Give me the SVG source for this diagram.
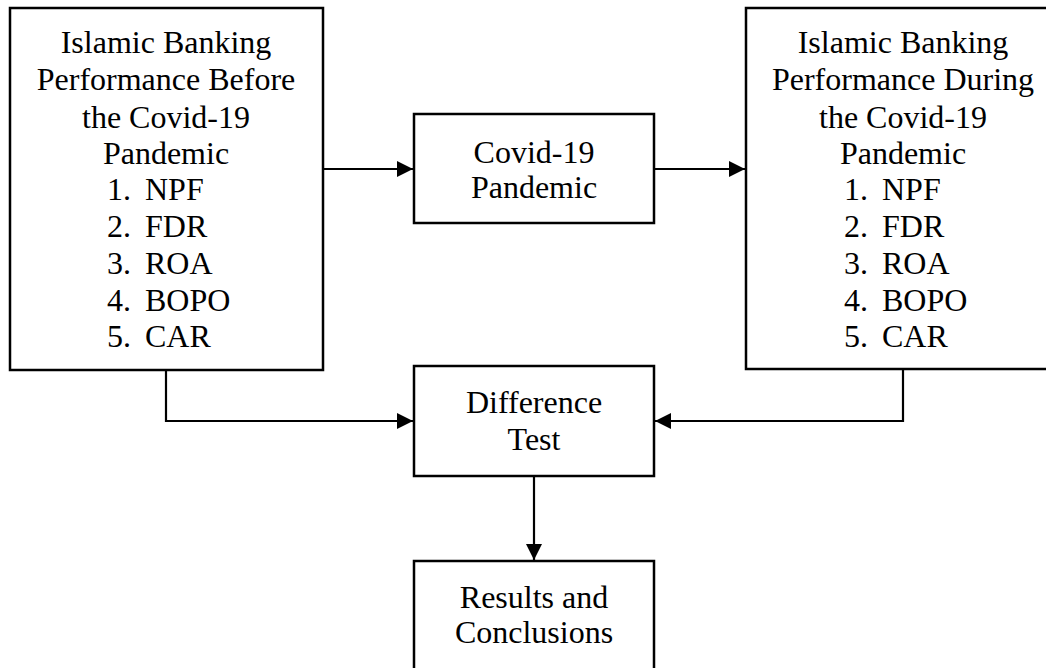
<svg xmlns="http://www.w3.org/2000/svg" width="1046" height="668" viewBox="0 0 1046 668">
<style>
.box{fill:#fff;stroke:#000;stroke-width:2.5}
.t{font-family:"Liberation Serif","Times New Roman",serif;font-size:32px;fill:#000}
.c{text-anchor:middle}
.ln{fill:none;stroke:#000;stroke-width:2.2}
</style>
<defs>
<marker id="ah" viewBox="0 0 16 16" refX="16" refY="8" markerWidth="16" markerHeight="16" markerUnits="userSpaceOnUse" orient="auto">
<path d="M0,0 L16,8 L0,16 Z" fill="#000"/>
</marker>
</defs>
<g id="connectors">
<line class="ln" x1="323" y1="169" x2="413" y2="169" marker-end="url(#ah)"/>
<line class="ln" x1="654" y1="169" x2="745" y2="169" marker-end="url(#ah)"/>
<polyline class="ln" points="166,371 166,421 413,421" marker-end="url(#ah)"/>
<polyline class="ln" points="903,370 903,421 655,421" marker-end="url(#ah)"/>
<line class="ln" x1="534" y1="477" x2="534" y2="560" marker-end="url(#ah)"/>
</g>
<g id="before">
<rect class="box" x="10" y="8" width="313" height="362"/>
<text class="t c" x="166" y="53">Islamic Banking</text>
<text class="t c" x="166" y="90">Performance Before</text>
<text class="t c" x="166" y="128">the Covid-19</text>
<text class="t c" x="166" y="164">Pandemic</text>
<text class="t" x="107" y="200">1.</text><text class="t" x="145" y="200">NPF</text>
<text class="t" x="107" y="237">2.</text><text class="t" x="145" y="237">FDR</text>
<text class="t" x="107" y="274">3.</text><text class="t" x="145" y="274">ROA</text>
<text class="t" x="107" y="311">4.</text><text class="t" x="145" y="311">BOPO</text>
<text class="t" x="107" y="347">5.</text><text class="t" x="145" y="347">CAR</text>
</g>
<g id="covid">
<rect class="box" x="414" y="114" width="240" height="109"/>
<text class="t c" x="534" y="163">Covid-19</text>
<text class="t c" x="534" y="198">Pandemic</text>
</g>
<g id="during">
<rect class="box" x="746" y="8" width="314" height="361"/>
<text class="t c" x="903" y="53">Islamic Banking</text>
<text class="t c" x="903" y="90">Performance During</text>
<text class="t c" x="903" y="128">the Covid-19</text>
<text class="t c" x="903" y="164">Pandemic</text>
<text class="t" x="844" y="200">1.</text><text class="t" x="882" y="200">NPF</text>
<text class="t" x="844" y="237">2.</text><text class="t" x="882" y="237">FDR</text>
<text class="t" x="844" y="274">3.</text><text class="t" x="882" y="274">ROA</text>
<text class="t" x="844" y="311">4.</text><text class="t" x="882" y="311">BOPO</text>
<text class="t" x="844" y="347">5.</text><text class="t" x="882" y="347">CAR</text>
</g>
<g id="difference">
<rect class="box" x="414" y="366" width="240" height="110"/>
<text class="t c" x="534" y="413">Difference</text>
<text class="t c" x="534" y="450">Test</text>
</g>
<g id="results">
<rect class="box" x="414" y="561" width="240" height="120"/>
<text class="t c" x="534" y="608">Results and</text>
<text class="t c" x="534" y="643">Conclusions</text>
</g>
</svg>
